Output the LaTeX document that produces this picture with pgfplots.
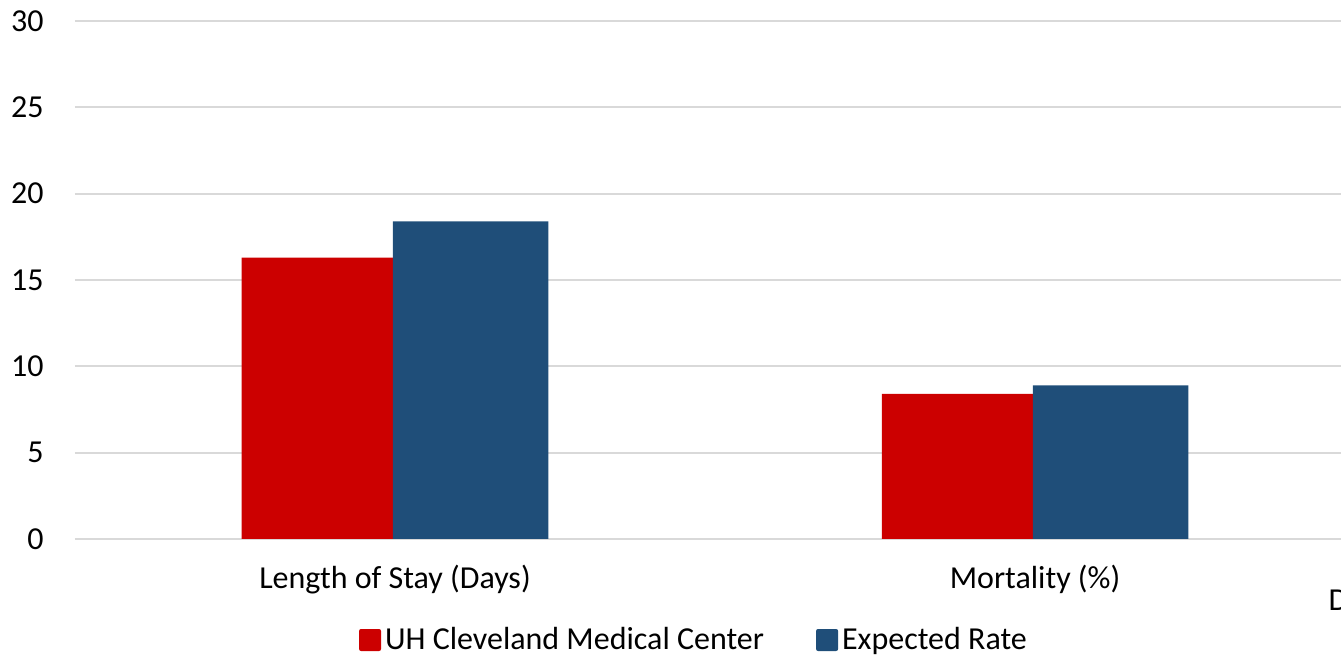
\documentclass[border=0pt]{standalone}
\usepackage{pgfplots}
\pgfplotsset{compat=1.18}
\usepackage{fontspec}
\setmainfont{Carlito}
\definecolor{uhred}{HTML}{CC0000}
\definecolor{exblue}{HTML}{1F4E79}
\definecolor{gridgray}{HTML}{D9D9D9}
\begin{document}
\begin{tikzpicture}
\path[use as bounding box] (0,0) rectangle (670.5pt,328.5pt);
\clip (0,0) rectangle (670.5pt,328.5pt);
\begin{axis}[
  at={(37.5pt,59pt)}, anchor=south west,
  scale only axis, width=633pt, height=259pt,
  xmin=-0.5, xmax=1.478, ymin=0, ymax=30,
  axis line style={draw=none},
  ytick={0,5,...,30}, xtick={0,1},
  xticklabels={Length of Stay (Days),Mortality (\%)},
  major tick length=0pt,
  ymajorgrids,
  major grid style={color=gridgray, line width=1pt},
  clip=false,
  font=\fontsize{16pt}{19pt}\selectfont,
  yticklabel style={anchor=east, inner sep=0pt, xshift=-15.5pt},
  xticklabel style={anchor=north, inner sep=0pt, yshift=-13pt},
  /pgf/number format/assume math mode=true,
  legend columns=2,
  legend style={at={(0.4897,-0.195)}, anchor=center, draw=none, fill=none,
    font=\fontsize{16pt}{19pt}\selectfont,
    /tikz/every even column/.append style={column sep=24pt}},
  legend image code/.code={\fill[#1, rounded corners=1pt] (0pt,-5.5pt) rectangle (11pt,5.5pt);},
]
\addplot[ybar, bar width=0.236, bar shift=-0.1215, fill=uhred, draw=none] coordinates {(0,16.3) (1,8.4)};
\addlegendentry{UH Cleveland Medical Center}
\addplot[ybar, bar width=0.243, bar shift=0.118, fill=exblue, draw=none] coordinates {(0,18.4) (1,8.9)};
\addlegendentry{Expected Rate}
\node[anchor=west, inner sep=0pt, font=\fontsize{16pt}{19pt}\selectfont] at (axis cs:1.458,-3.55) {D};
\end{axis}
\end{tikzpicture}
\end{document}
